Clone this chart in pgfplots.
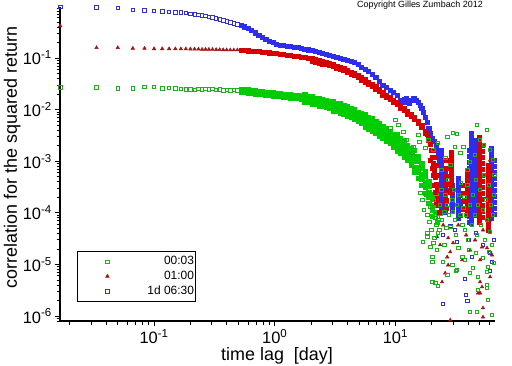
\documentclass[border=0pt]{standalone}
\usepackage{fontspec}
\setmainfont{Liberation Sans}
\usepackage{pgfplots}
\pgfplotsset{compat=1.18}
\definecolor{gB}{RGB}{0,205,0}
\definecolor{gS}{RGB}{25,178,25}
\definecolor{rB}{RGB}{215,0,0}
\definecolor{rS}{RGB}{165,20,20}
\definecolor{bB}{RGB}{45,45,235}
\definecolor{bS}{RGB}{50,50,200}
\begin{document}
\begin{tikzpicture}
\useasboundingbox (0,0) rectangle (512bp,366bp);
\begin{axis}[
  at={(60bp,45bp)}, anchor=south west,
  scale only axis, width=435bp, height=314.5bp,
  xmode=log, ymode=log,
  xmin=0.0166, xmax=67, ymin=8e-7, ymax=0.995,
  axis x line*=bottom, axis y line*=left,
  axis line style={-, line width=1.1bp, black},
  tick align=outside,
  major tick length=5.5bp, minor tick length=3.5bp,
  tick style={black, line width=0.7bp},
  xticklabel={\pgfmathparse{int(round(\tick/2.302585093))}10\textsuperscript{\pgfmathresult}},
  yticklabel={\pgfmathparse{int(round(\tick/2.302585093))}10\textsuperscript{\pgfmathresult}},
  ticklabel style={font=\fontsize{16.5}{18}\selectfont, inner sep=1bp},
  xticklabel style={yshift=-2bp},
  yticklabel style={xshift=-1.5bp},
  xlabel={time lag\ \ [day]},
  ylabel={correlation for the squared return},
  label style={font=\fontsize{18}{21}\selectfont, inner sep=0bp},
  xlabel style={at={(axis description cs:0.499,-0.112)}, anchor=center},
  ylabel style={at={(axis description cs:-0.110,0.520)}, anchor=center},
  legend style={at={(axis description cs:0.039,0.222)}, anchor=north west,
    draw=black, line width=0.9bp, fill=white, inner xsep=0bp, inner ysep=3.5bp,
    row sep=2bp, font=\fontsize{12}{14}\selectfont,
    nodes={inner ysep=1.5bp, inner xsep=1bp},
    /tikz/every odd column/.append style={column sep=27bp}},
  legend cell align=right,
  reverse legend,
  legend image code/.code={\path[draw=none,fill=none] (0bp,0bp) -- (42bp,0bp); \draw[#1, only marks, line width=0.7bp] plot coordinates {(30bp,0bp)};},
]
% ---------- early (sparse) lags, with legend ----------
\addplot[only marks, mark=square, mark size=1.7pt, bS, line width=0.7bp] coordinates {
(0.01667,0.974) (0.03333,0.961) (0.05,0.944) (0.06667,0.851) (0.08333,0.840) (0.1,0.826) (0.1167,0.803) (0.1333,0.778) (0.15,0.767) (0.1667,0.762) (0.1833,0.745) (0.2,0.712) (0.2167,0.697) (0.2333,0.681) (0.25,0.667) (0.267,0.652) (0.285,0.628) (0.305,0.610) (0.327,0.587) (0.350,0.562) (0.374,0.533) (0.400,0.514) (0.428,0.492) (0.458,0.470) (0.490,0.452)};
\addlegendentry{1d 06:30}
\addplot[only marks, mark=triangle*, mark size=2pt, rS, line width=0.5bp] coordinates {
(0.01667,0.42) (0.03333,0.158) (0.05,0.158) (0.06667,0.154) (0.08333,0.154) (0.1,0.151) (0.1167,0.151) (0.1333,0.151) (0.15,0.151) (0.1667,0.150) (0.1833,0.150) (0.2,0.149) (0.2167,0.149) (0.2333,0.148) (0.25,0.147) (0.267,0.1475) (0.285,0.1468) (0.305,0.1462) (0.327,0.1455) (0.350,0.1449) (0.374,0.1443) (0.400,0.1436) (0.428,0.1429) (0.458,0.1429) (0.490,0.1429)};
\addlegendentry{01:00}
\addplot[only marks, mark=square, mark size=1.7pt, gS, line width=0.7bp] coordinates {
(0.01667,0.0270) (0.03333,0.0270) (0.05,0.0259) (0.06667,0.0259) (0.08333,0.0277) (0.1,0.0274) (0.1167,0.0259) (0.1333,0.0262) (0.15,0.0259) (0.1667,0.0250) (0.1833,0.0248) (0.2,0.0248) (0.2167,0.0243) (0.2333,0.0250) (0.25,0.0246) (0.267,0.0255) (0.285,0.0246) (0.305,0.0253) (0.327,0.0241) (0.350,0.0247) (0.374,0.0236) (0.400,0.0244) (0.428,0.0236) (0.458,0.0242) (0.490,0.0234)};
\addlegendentry{00:03}
% ---------- dense band: 1d 06:30 ----------
\addplot[forget plot, only marks, mark=square*, mark size=2.1pt, bB] coordinates {
(0.525,0.437) (0.561,0.403) (0.601,0.372) (0.643,0.343) (0.688,0.308) (0.736,0.278) (0.787,0.253) (0.842,0.229) (0.901,0.213) (0.964,0.199) (1.032,0.188) (1.104,0.180) (1.181,0.175) (1.264,0.171) (1.353,0.168) (1.447,0.163) (1.549,0.159) (1.657,0.154) (1.773,0.149) (1.897,0.145) (2.030,0.140) (2.172,0.134) (2.324,0.129) (2.487,0.124) (2.661,0.120) (2.847,0.114) (3.047,0.109) (3.260,0.104) (3.488,0.0987) (3.732,0.0935) (3.994,0.0895) (4.273,0.0863) (4.572,0.0818) (4.892,0.0745) (5.235,0.0675) (5.601,0.0612) (5.993,0.0547) (6.413,0.0490) (6.862,0.0428) (7.342,0.0358) (7.856,0.0300) (8.406,0.0268) (8.994,0.0240) (9.624,0.0214) (10.30,0.0192) (11.02,0.0153) (11.40,0.0140) (11.79,0.0160) (12.21,0.0168) (12.61,0.0140) (13.05,0.0134) (13.50,0.0153) (13.98,0.0168) (14.44,0.0164) (14.97,0.0153) (15.45,0.0140) (16.00,0.0122) (16.53,0.0107) (17.14,0.00898) (17.69,0.00719) (18.3,0.00575) (18.93,0.00440) (19.6,0.00352) (20.26,0.00282) (20.9,0.00246) (21.67,0.00206) (22.4,0.00165) (22.8,0.00132) (23.19,0.00105)};
% ---------- dense band: 01:00 ----------
\addplot[forget plot, only marks, mark=square*, mark size=2.1pt, rB] coordinates {
(0.525,0.1416) (0.561,0.1402) (0.601,0.1385) (0.643,0.1367) (0.688,0.1349) (0.736,0.1331) (0.787,0.1313) (0.842,0.1290) (0.901,0.1267) (0.964,0.1245) (1.032,0.1222) (1.104,0.1195) (1.181,0.1169) (1.264,0.1143) (1.353,0.1118) (1.447,0.1093) (1.549,0.1069) (1.657,0.1045) (1.773,0.1018) (1.897,0.0991) (2.030,0.0965) (2.172,0.0927) (2.324,0.0890) (2.487,0.0855) (2.661,0.0822) (2.847,0.0782) (3.047,0.0748) (3.260,0.0706) (3.488,0.0669) (3.732,0.0626) (3.994,0.0585) (4.273,0.0540) (4.572,0.0501) (4.892,0.0462) (5.235,0.0419) (5.601,0.0380) (5.993,0.0343) (6.413,0.0309) (6.862,0.0280) (7.342,0.0251) (7.856,0.0214) (8.406,0.0192) (8.994,0.0172) (9.624,0.0153) (10.30,0.0137) (11.02,0.0120) (11.79,0.0105) (12.61,0.00918) (13.50,0.00822) (14.44,0.00703) (15.45,0.00601) (16.53,0.00503) (17.69,0.00385) (18.3,0.00336) (18.93,0.00282) (19.6,0.00216) (20.26,0.00165) (20.9,0.00121) (21.67,0.000844) (22.4,0.000541) (23.19,0.000346)
(2.030,0.0878) (2.172,0.0844) (2.324,0.0810) (2.487,0.0778) (2.661,0.0748) (2.847,0.0712) (3.047,0.0681) (3.260,0.0642) (3.488,0.0609) (3.732,0.0570) (3.994,0.0532) (4.273,0.0491) (4.572,0.0456) (4.892,0.0420) (5.235,0.0381) (5.601,0.0346) (5.993,0.0312) (6.413,0.0281) (6.862,0.0255) (7.342,0.0228) (7.856,0.0195) (8.406,0.0175) (8.994,0.0157) (9.624,0.0139) (10.30,0.0125) (11.02,0.0109) (11.79,0.00956) (12.61,0.00835) (13.50,0.00748) (14.44,0.00640) (15.45,0.00547) (16.53,0.00458) (17.69,0.00350) (18.93,0.00257)};
% ---------- dense band: 00:03 ----------
\addplot[forget plot, only marks, mark=square*, mark size=2.1pt, gB] coordinates {
(0.525,0.0235) (0.561,0.0230) (0.601,0.0226) (0.643,0.0222) (0.688,0.0217) (0.736,0.0214) (0.787,0.0211) (0.842,0.0206) (0.901,0.0203) (0.964,0.0199) (1.032,0.0195) (1.104,0.0192) (1.181,0.0189) (1.264,0.0185) (1.353,0.0182) (1.447,0.0179) (1.549,0.0176) (1.657,0.0172) (1.773,0.0167) (1.897,0.0160) (2.030,0.0153) (2.172,0.0147) (2.324,0.0141) (2.487,0.0136) (2.661,0.0130) (2.847,0.0125) (3.047,0.0118) (3.260,0.0112) (3.488,0.0106) (3.732,0.0100) (3.994,0.00939) (4.273,0.00866) (4.572,0.00804) (4.892,0.00735) (5.235,0.00673) (5.601,0.00615) (5.993,0.00550) (6.413,0.00503) (6.862,0.00454) (7.342,0.00406) (7.856,0.00363) (8.406,0.00322) (8.994,0.00285) (9.624,0.00252) (10.30,0.00226) (11.02,0.00197) (11.79,0.00172) (12.61,0.00147) (13.50,0.00120) (14.44,0.000987) (15.45,0.000772) (16.53,0.000565) (17.69,0.000395) (18.93,0.000253) (20.26,0.000142)
(0.525,0.0251) (0.561,0.0246) (0.601,0.0242) (0.643,0.0238) (0.688,0.0232) (0.736,0.0229) (0.787,0.0226) (0.842,0.0220) (0.901,0.0217) (0.964,0.0213) (1.032,0.0209) (1.104,0.0205) (1.181,0.0202) (1.264,0.0198) (1.353,0.0195) (1.447,0.0192) (1.549,0.0188) (1.657,0.0184) (1.773,0.0198) (1.897,0.0184) (2.030,0.0181) (2.172,0.0169) (2.324,0.0167) (2.487,0.0156) (2.661,0.0154) (2.847,0.0144) (3.047,0.0147) (3.260,0.0134) (3.488,0.0132) (3.732,0.0120) (3.994,0.0117) (4.273,0.0104) (4.572,0.0100) (4.892,0.00884) (5.235,0.00838) (5.601,0.00820) (5.993,0.00707) (6.413,0.00670) (6.862,0.00583) (7.342,0.00541) (7.856,0.00466) (8.406,0.00429) (8.994,0.00366) (9.624,0.00336) (10.30,0.00330) (11.02,0.00275) (11.79,0.00251) (12.61,0.00206) (13.50,0.00175) (14.44,0.00161) (15.45,0.00126) (16.53,0.000923) (17.69,0.000645) (18.93,0.000413) (20.26,0.000232)
(0.525,0.0220) (0.561,0.0215) (0.601,0.0211) (0.643,0.0208) (0.688,0.0203) (0.736,0.0200) (0.787,0.0197) (0.842,0.0193) (0.901,0.0190) (0.964,0.0186) (1.032,0.0182) (1.104,0.0180) (1.181,0.0177) (1.264,0.0173) (1.353,0.0170) (1.447,0.0167) (1.549,0.0165) (1.657,0.0161) (1.773,0.0141) (1.897,0.0139) (2.030,0.0129) (2.172,0.0128) (2.324,0.0119) (2.487,0.0118) (2.661,0.0110) (2.847,0.0108) (3.047,0.00950) (3.260,0.00930) (3.488,0.00852) (3.732,0.00830) (3.994,0.00755) (4.273,0.00718) (4.572,0.00646) (4.892,0.00610) (5.235,0.00541) (5.601,0.00462) (5.993,0.00428) (6.413,0.00378) (6.862,0.00353) (7.342,0.00305) (7.856,0.00282) (8.406,0.00242) (8.994,0.00222) (9.624,0.00189) (10.30,0.00155) (11.02,0.00141) (11.79,0.00118) (12.61,0.00105) (13.50,0.000823) (14.44,0.000604) (15.45,0.000472) (16.53,0.000346) (17.69,0.000242) (18.93,0.000155) (20.26,0.0000869)
(5.601,0.00703) (5.993,0.00629) (6.413,0.00575) (6.862,0.00519) (7.342,0.00464) (7.856,0.00415) (8.406,0.00368) (8.994,0.00326) (9.624,0.00288) (10.30,0.00270) (11.02,0.00235) (11.79,0.00206) (12.61,0.00176) (13.50,0.00143) (14.44,0.00126) (15.45,0.000987) (16.53,0.000722) (17.69,0.000505) (18.93,0.000323) (20.26,0.000181)
(5.601,0.00538) (5.993,0.00481) (6.413,0.00440) (6.862,0.00397) (7.342,0.00355) (7.856,0.00318) (8.406,0.00282) (8.994,0.00249) (9.624,0.00221) (10.30,0.00189) (11.02,0.00165) (11.79,0.00144) (12.61,0.00123) (13.50,0.00100) (14.44,0.000772) (15.45,0.000604) (16.53,0.000442) (17.69,0.000309) (18.93,0.000198) (20.26,0.000111)
(21.0,0.000221) (21.8,0.000142) (22.6,0.000221) (21.4,0.000104) (22.2,0.000066) (23.5,0.000099)};
% ---------- noisy long lags: stripes of 1d 06:30 ----------
\addplot[forget plot, only marks, mark=square*, mark size=2.1pt, bB] coordinates {
(24.0,0.00165) (24.0,0.00132) (24.0,0.00105) (24.0,0.000844) (24.0,0.000675) (24.0,0.000541) (24.0,0.000432) (24.0,0.000346) (24.0,0.000277) (24.0,0.000221) (24.0,0.000177) (24.0,0.000142) (24.0,0.000113)
(25.9,0.000738) (25.9,0.000591) (25.9,0.000473) (25.9,0.000378) (25.9,0.000303) (25.9,0.000242) (25.9,0.000194) (25.9,0.000155) (25.9,0.000124) (25.9,0.000104)
(29.6,0.000346) (29.6,0.000277) (29.6,0.000221) (29.6,0.000177) (29.6,0.000142) (29.6,0.000113)
(33.2,0.000473) (33.2,0.000378) (33.2,0.000303) (33.2,0.000242) (33.2,0.000194) (33.2,0.000155) (33.2,0.000124) (33.2,0.000099) (33.2,0.000079)
(34.5,0.000346) (34.5,0.000221) (34.5,0.000142) (34.5,0.0000906)
(41.3,0.00165) (41.3,0.00126) (41.3,0.000965) (41.3,0.000738) (41.3,0.000565) (41.3,0.000432) (41.3,0.000331) (41.3,0.000253) (41.3,0.000194) (41.3,0.000148) (41.3,0.000113) (41.3,0.000087) (41.3,0.000066)
(42.5,0.00352) (42.5,0.00282) (42.5,0.00225) (42.5,0.00180) (42.5,0.00144) (42.5,0.00115) (42.5,0.000923) (42.5,0.000738) (42.5,0.000591) (42.5,0.000473) (42.5,0.000378) (42.5,0.000303) (42.5,0.000242) (42.5,0.000194) (42.5,0.000155) (42.5,0.000124) (42.5,0.000099) (42.5,0.000079) (42.5,0.0000635)
(45.0,0.00258) (45.0,0.00206) (45.0,0.00165) (45.0,0.00132) (45.0,0.00105) (45.0,0.000844) (45.0,0.000675) (45.0,0.000541) (45.0,0.000432) (45.0,0.000346) (45.0,0.000277) (45.0,0.000221) (45.0,0.000177) (45.0,0.000142) (45.0,0.000113) (45.0,0.0000906)
(62.1,0.00180) (62.1,0.00144) (62.1,0.00115) (62.1,0.000923) (62.1,0.000738) (62.1,0.000591) (62.1,0.000473) (62.1,0.000378) (62.1,0.000303) (62.1,0.000242) (62.1,0.000194) (62.1,0.000155) (62.1,0.000124) (62.1,0.000099) (62.1,0.000079)
(65.7,0.00105) (65.7,0.000807) (65.7,0.000618) (65.7,0.000473) (65.7,0.000362) (65.7,0.000277) (65.7,0.000212) (65.7,0.000162) (65.7,0.000124) (65.7,0.000095)};
% ---------- noisy long lags: stripes of 01:00 ----------
\addplot[forget plot, only marks, mark=square*, mark size=2pt, rB] coordinates {
(19.9,0.00165) (20.2,0.00121) (20.6,0.000923) (21.0,0.000675) (21.4,0.000495) (21.8,0.000362) (22.2,0.000277) (22.2,0.000194) (22.6,0.000142) (23.1,0.000104) (20.6,0.000541) (21.4,0.000253) (21.8,0.000162) (21.0,0.000346) (20.2,0.000738) (19.5,0.00105)
(26.4,0.00105) (26.4,0.000738) (26.4,0.000517) (26.4,0.000362) (26.4,0.000253) (26.4,0.000177) (26.4,0.000124)
(29.0,0.00151) (29.0,0.00121) (29.0,0.000965) (29.0,0.000772) (29.0,0.000618) (29.0,0.000495) (29.0,0.000395) (29.0,0.000316) (29.0,0.000253)
(36.5,0.000346) (36.5,0.000242) (36.5,0.000170) (36.5,0.000119)
(39.4,0.000675) (39.4,0.000541) (39.4,0.000432) (39.4,0.000346) (39.4,0.000277) (39.4,0.000221) (39.4,0.000177) (39.4,0.000142) (39.4,0.000113) (39.4,0.0000906)
(49.4,0.00294) (49.4,0.00236) (49.4,0.00188) (49.4,0.00151) (49.4,0.00121) (49.4,0.000965) (49.4,0.000772) (49.4,0.000618) (49.4,0.000495) (49.4,0.000395) (49.4,0.000316) (49.4,0.000253) (49.4,0.000203) (49.4,0.000162) (49.4,0.000130) (49.4,0.000104) (49.4,0.000083) (49.4,0.000066)
(52.3,0.00206) (52.3,0.00158) (52.3,0.00121) (52.3,0.000923) (52.3,0.000706) (52.3,0.000541) (52.3,0.000414) (52.3,0.000316) (52.3,0.000242) (52.3,0.000185) (52.3,0.000142) (52.3,0.000108) (52.3,0.000083)
(58.6,0.000844) (58.6,0.000675) (58.6,0.000541) (58.6,0.000432) (58.6,0.000346) (58.6,0.000277) (58.6,0.000221) (58.6,0.000177) (58.6,0.000142) (58.6,0.000113) (58.6,0.0000906) (58.6,0.0000725) (58.6,0.000058) (58.6,0.0000464)};
% ---------- isolated long-lag points ----------
\addplot[forget plot, only marks, mark=square, mark size=1.7pt, bS, line width=0.7bp] coordinates {
(32.5,2.72e-5) (24.9,3.71e-5) (37.9,5.21e-6) (38.6,2.55e-6) (39.4,1.95e-6) (24.9,1.71e-6) (61.0,7.44e-6) (63.3,1.11e-5) (43.3,1.39e-5) (61.0,1.66e-5) (46.7,4.06e-5) (28.5,5.55e-5) (53.3,2.38e-5) (40.9,2.97e-5) (31.3,4.64e-5) (65.7,2.97e-5)};
\addplot[forget plot, only marks, mark=triangle*, mark size=2pt, rS, line width=0.5bp] coordinates {
(27.4,9.73e-6) (25.9,6.8e-6) (24.4,4.56e-6) (28.5,8.3e-7) (50.4,4.56e-6) (50.4,2.79e-6) (61.0,5.7e-6) (53.3,1.43e-6) (53.3,9.5e-7) (28.5,1.74e-5) (30.1,2.60e-5) (22.2,3.40e-5) (23.5,2.38e-5) (27.4,3.25e-5) (26.9,1.39e-5) (61.0,7.25e-5) (53.3,4.64e-5) (52.3,2.17e-5) (50.4,1.22e-5) (63.3,1.52e-5) (52.3,3.65e-6) (48.5,2.79e-6) (35.8,1.22e-5) (41.7,1.90e-5) (33.2,5.8e-5) (24.9,5.8e-5) (38.6,3.71e-5) (45.8,2.97e-5) (57.5,2.08e-5) (27.4,0.000277) (24.9,0.000155) (61.0,0.00105) (63.3,0.000591) (57.5,0.000203)};
\addplot[forget plot, only marks, mark=square, mark size=1.7pt, gS, line width=0.7bp] coordinates {
(9.09,0.00440) (10.0,0.00629) (10.59,0.00503) (11.65,0.00368) (12.33,0.00258) (15.8,0.00236) (14.1,0.00188) (13.82,0.00144) (15.5,0.00322) (17.7,0.00180) (18.8,0.00258) (20.6,0.00165) (22.6,0.00225) (26.9,0.00294) (30.1,0.00352) (32.5,0.00336) (31.3,0.00188) (34.5,0.00144) (36.5,0.00188) (39.4,0.000675) (50.4,0.00258) (57.5,0.00402) (61.0,0.00165) (64.5,0.00105) (45.8,0.00132) (41.7,0.000965) (25.9,0.00115) (28.5,0.000844) (24.0,0.000675) (54.3,0.00206) (66.0,0.000541) (47.6,0.00503)
(16.7,0.000177) (17.3,0.000113) (18.0,0.000221) (18.4,9.06e-5) (19.1,6.6e-5) (19.5,0.000130) (19.9,4.64e-5) (20.6,0.000177) (21.0,3.25e-5) (21.4,7.9e-5) (21.8,5.8e-5) (22.6,8.3e-5) (23.1,4.64e-5) (23.5,0.000142) (24.0,0.000277) (24.4,7.25e-5) (25.4,0.000104) (25.9,0.000221) (26.4,5.08e-5) (26.9,0.000142) (27.4,0.000432) (27.9,9.06e-5) (28.5,5.3e-5) (29.6,0.000177) (30.1,0.000104) (30.7,0.000277) (31.3,7.25e-5) (31.9,3.71e-5) (32.5,0.000142) (33.8,0.000221) (34.5,9.06e-5) (35.1,0.000378) (35.8,5.8e-5) (36.5,0.000124) (37.2,0.000203) (37.9,4.64e-5) (38.6,9.06e-5) (39.4,0.000346) (40.1,2.97e-5) (41.7,0.000142) (43.3,5.8e-5) (44.1,0.000221) (45.8,9.06e-5) (46.7,0.000432) (47.6,3.71e-5) (48.5,0.000142) (50.4,0.000277) (51.3,5.8e-5) (53.3,0.000113) (54.3,0.000541) (55.4,2.97e-5) (56.4,0.000177) (57.5,7.25e-5) (59.8,0.000346) (61.0,4.25e-5) (62.1,0.000142) (63.3,2.38e-5) (64.5,9.06e-5) (65.7,0.000221) (40.9,1.90e-5) (33.2,2.08e-5) (25.4,2.38e-5)
(17.0,2.72e-5) (18.4,4.06e-5) (20.2,1.39e-5) (20.2,1.11e-5) (20.6,2.60e-5) (22.2,1.90e-5) (24.9,1.11e-5) (22.6,4.06e-5) (20.2,4.56e-6) (21.4,4.36e-6) (22.6,3.82e-6) (31.9,7.44e-6) (35.8,1.39e-5) (41.7,6.8e-6) (44.1,8.5e-6) (48.5,3.19e-6) (57.5,3.99e-6) (58.6,2.04e-6) (41.7,1.2e-6) (47.6,1.2e-6) (63.3,1.04e-6) (65.7,1.06e-5) (58.6,8.9e-6) (26.9,6.23e-6) (32.5,7.78e-6) (48.5,5.7e-6) (57.5,7.12e-6) (57.5,3.49e-6) (19.5,2.17e-5) (18.4,3.40e-5) (16.1,0.000242) (37.9,1.22e-5) (53.3,1.33e-5) (46.7,1.66e-5) (29.6,9.73e-6) (59.8,1.74e-5)};
\end{axis}
\node[font=\fontsize{9}{10}\selectfont] at (420bp,361bp) {Copyright Gilles Zumbach 2012};
\end{tikzpicture}
\end{document}
